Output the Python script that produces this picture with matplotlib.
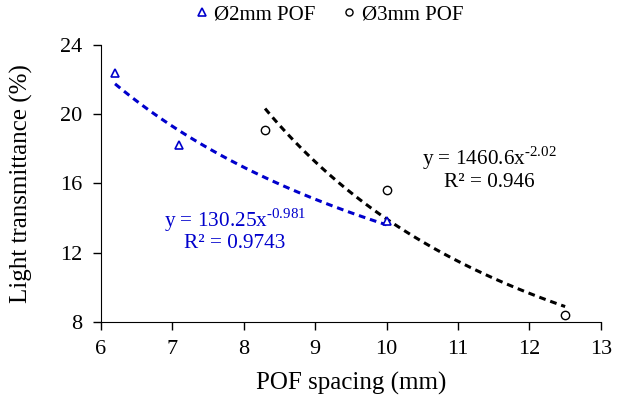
import numpy as np
import matplotlib.pyplot as plt

plt.rcParams['font.family'] = ['Liberation Serif', 'DejaVu Serif']
plt.rcParams['mathtext.fontset'] = 'custom'
plt.rcParams['mathtext.rm'] = 'Liberation Serif'

# measured light transmittance for two fibre diameters
spacing_2mm = [6.2, 7.1, 10.0]
trans_2mm = [22.4, 18.2, 13.8]
spacing_3mm = [8.3, 10.0, 12.5]
trans_3mm = [19.1, 15.6, 8.4]

# power-law trendlines y = a * x^b, with R²
fit_2mm = (130.25, -0.981, 0.9743)
fit_3mm = (1460.6, -2.02, 0.946)

blue = '#0000CC'

fig = plt.figure(figsize=(6.22, 4.08), dpi=100)
ax = fig.add_axes([0.162, 0.211, 0.804, 0.679])

x2 = np.linspace(min(spacing_2mm), max(spacing_2mm), 100)
x3 = np.linspace(min(spacing_3mm), max(spacing_3mm), 100)
ax.plot(x2, fit_2mm[0] * x2 ** fit_2mm[1], color=blue, lw=2.2, ls=(0, (2.2, 1.6)))
ax.plot(x3, fit_3mm[0] * x3 ** fit_3mm[1], color='black', lw=2.2, ls=(0, (2.2, 1.6)))

ax.plot(spacing_2mm, trans_2mm, ls='none', marker='^', ms=6, mfc='white',
        mec=blue, mew=1.2, label='Ø2mm POF')
ax.plot(spacing_3mm, trans_3mm, ls='none', marker='o', ms=6, mfc='white',
        mec='black', mew=1.0, label='Ø3mm POF')


def eq_label(a, b):
    # hyphen (U+2010) keeps the exponent sign short like a spreadsheet label
    exp = ('%g' % b).replace('-', '\u2010')
    return r'y = %sx$^{\mathregular{%s}}$' % (('%g' % a), exp)


ax.text(7.88, 13.9, eq_label(*fit_2mm[:2]), color=blue,
        fontsize=15.3, ha='center', va='center')
ax.text(7.88, 12.55, 'R² = %.4f' % fit_2mm[2], color=blue,
        fontsize=15.3, ha='center', va='center')
ax.text(11.44, 17.47, eq_label(*fit_3mm[:2]), color='black',
        fontsize=15.3, ha='center', va='center')
ax.text(11.44, 16.08, 'R² = %.3f' % fit_3mm[2], color='black',
        fontsize=15.3, ha='center', va='center')

ax.set_xlim(6, 13)
ax.set_ylim(8, 24)
ax.set_xticks(range(6, 14))
ax.set_yticks([8, 12, 16, 20, 24])
ax.tick_params(direction='out', length=6, width=1, labelsize=16)
ax.tick_params(axis='x', pad=7)
ax.tick_params(axis='y', pad=7)
ax.spines['top'].set_visible(False)
ax.spines['right'].set_visible(False)

ax.set_xlabel('POF spacing (mm)', fontsize=18, va='center')
ax.set_ylabel('Light transmittance (%)', fontsize=18, va='center')
ax.xaxis.set_label_coords(0.5, -(384 - 322) / 277)
ax.yaxis.set_label_coords(-(101 - 22) / 500, 0.5)

ax.legend(loc='center', bbox_to_anchor=(0.458, 1.109), ncol=2, frameon=False,
          fontsize=15, handlelength=0.5, handletextpad=0.35, columnspacing=1.35,
          markerscale=0.85)

fig.savefig('out.png', dpi=100)
